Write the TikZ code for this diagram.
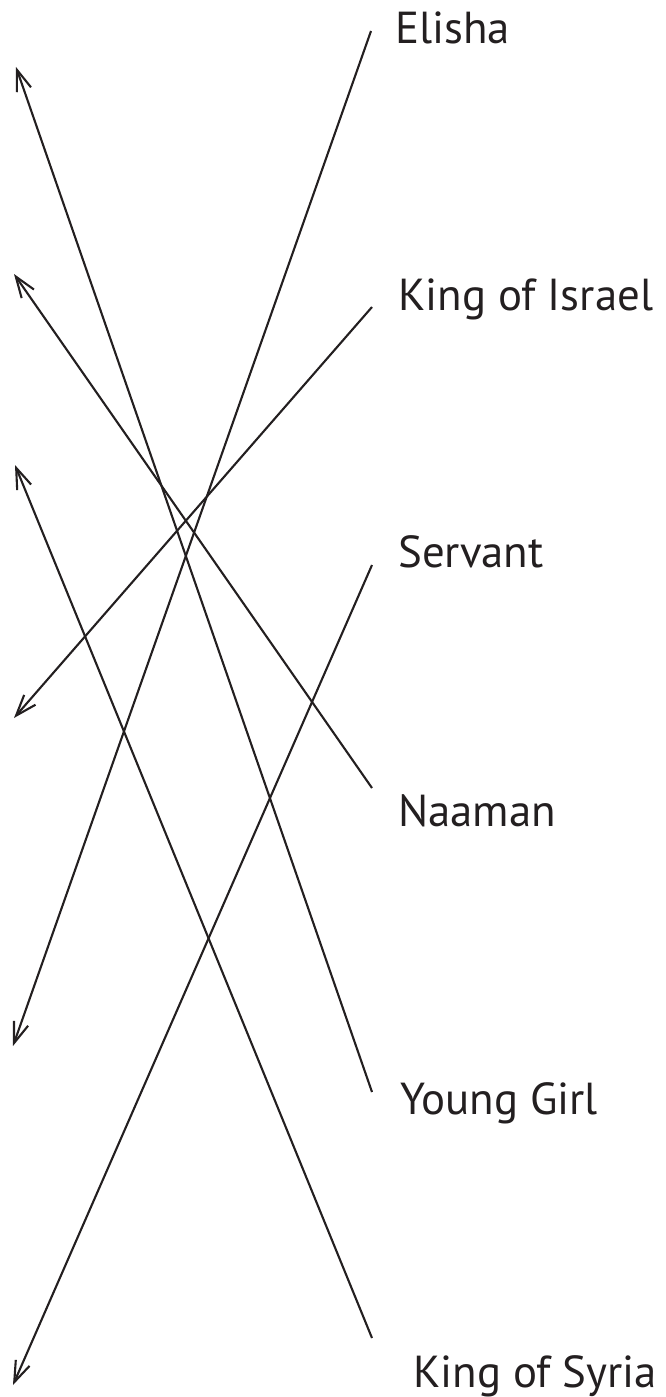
\documentclass[tikz,border=0pt]{standalone}
\usepackage{fontspec}
\setmainfont{PT Sans}
\usetikzlibrary{arrows.meta,positioning}
\definecolor{inkcol}{HTML}{231F20}
\tikzstyle{person} = [font=\fontsize{45}{54}\selectfont, text=inkcol, anchor=base west, inner sep=0pt]
\tikzstyle{match} = [-{Straight Barb[length=21bp,width=15bp]}, draw=inkcol, line width=2.1bp]

\begin{document}
\begin{tikzpicture}[x=1bp,y=-1bp]
    \useasboundingbox (0,0) rectangle (666,1397);

    % names
    \node[person] (elisha) at (395,44) {Elisha};
    \node[person] (israel) at (398,310) {King of Israel};
    \node[person] (servant) at (398,567) {Servant};
    \node[person] (naaman) at (398,826) {Naaman};
    \node[person] (girl) at (400,1114) {Young Girl};
    \node[person] (syria) at (413,1387) {King of Syria};

    % line ends next to the names
    \coordinate (elisha-end) at (371,31);
    \coordinate (israel-end) at (372,307);
    \coordinate (servant-end) at (372,565);
    \coordinate (naaman-end) at (372,788);
    \coordinate (girl-end) at (372,1092);
    \coordinate (syria-end) at (372,1338);

    % arrow tips on the left
    \coordinate (tip1) at (16,67);
    \coordinate (tip2) at (14,274);
    \coordinate (tip3) at (15,465);
    \coordinate (tip4) at (14,718);
    \coordinate (tip5) at (13,1046);
    \coordinate (tip6) at (13,1385);

    % Paths
    \draw[match] (elisha-end) -- (tip5);
    \draw[match] (israel-end) -- (tip4);
    \draw[match] (servant-end) -- (tip6);
    \draw[match] (naaman-end) -- (tip2);
    \draw[match] (girl-end) -- (tip1);
    \draw[match] (syria-end) -- (tip3);
\end{tikzpicture}
\end{document}
